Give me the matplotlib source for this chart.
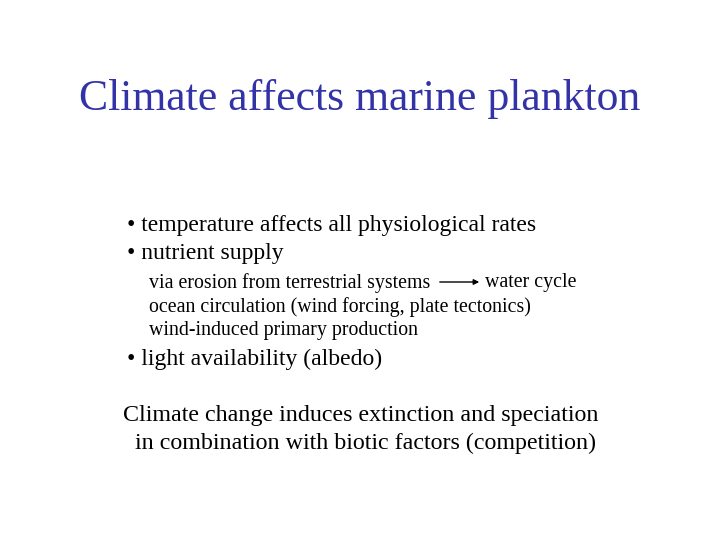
import matplotlib
matplotlib.use("Agg")
import matplotlib.pyplot as plt

title = "Climate affects marine plankton"
bullets = ["• temperature affects all physiological rates", "• nutrient supply"]
sub_lines = ["via erosion from terrestrial systems", "ocean circulation (wind forcing, plate tectonics)", "wind-induced primary production"]
arrow_target = "water cycle"
bullet3 = "• light availability (albedo)"
closing = ["Climate change induces extinction and speciation", "  in combination with biotic factors (competition)"]

plt.rcParams['font.family'] = ['Liberation Serif', 'DejaVu Serif']
fig = plt.figure(figsize=(7.2, 5.4), dpi=100)
W, H = 720, 540
def T(x, y, s, size, color='black'):
    fig.text(x / W, 1 - (y + 3) / H, s, fontsize=size, color=color, ha='left', va='center')

fig.text(0.5, 1 - 99 / H, title, fontsize=31.5, color='#3333a8', ha='center', va='center')
T(127, 222, bullets[0], 17)
T(127, 250, bullets[1], 17)
for i, s in enumerate(sub_lines):
    T(149, 280 + 24 * i, s, 14.3)
T(485, 280, arrow_target, 14.3)
fig.patches.append(matplotlib.patches.FancyArrowPatch((437 / W, 1 - 282 / H), (482 / W, 1 - 282 / H),
                   transform=fig.transFigure, arrowstyle='-|>', mutation_scale=8, lw=1, color='black'))
T(127, 356, bullet3, 17)
T(123, 413, closing[0], 17.3)
T(123, 440, closing[1], 17.3)
fig.savefig("out.png", dpi=100)
